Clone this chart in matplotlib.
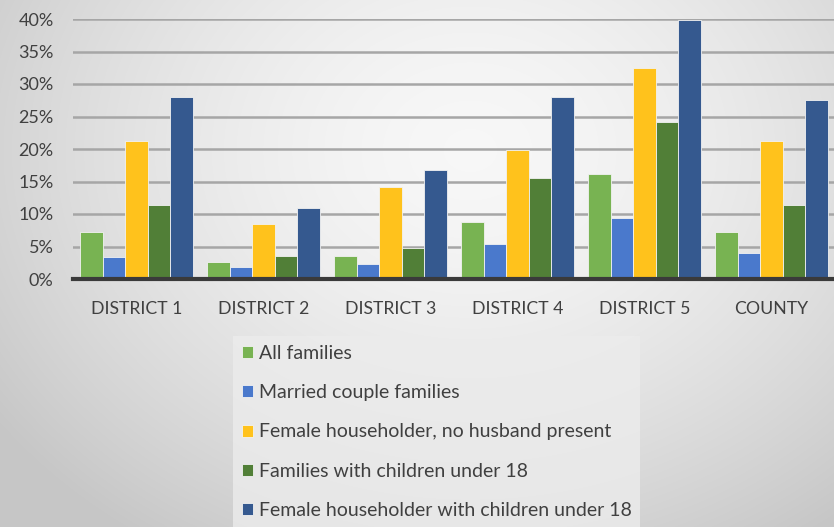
import matplotlib.pyplot as plt
import numpy as np

categories = ["DISTRICT 1", "DISTRICT 2", "DISTRICT 3", "DISTRICT 4", "DISTRICT 5", "COUNTY"]
series_names = [
    "All families",
    "Married couple families",
    "Female householder, no husband present",
    "Families with children under 18",
    "Female householder with children under 18",
]
all_families = [7.2, 2.6, 3.6, 8.7, 16.1, 7.3]
married_couple = [3.4, 1.9, 2.3, 5.4, 9.4, 4.0]
female_no_husband = [21.2, 8.5, 14.2, 19.8, 32.5, 21.3]
families_children = [11.4, 3.6, 4.7, 15.6, 24.2, 11.4]
female_children = [28.0, 10.9, 16.8, 28.0, 39.8, 27.5]
yticks = [0, 5, 10, 15, 20, 25, 30, 35, 40]

colors = ["#78B352", "#4A79CC", "#FFC21C", "#517F37", "#35598F"]
text_color = "#404040"
plt.rcParams["font.family"] = ["Lato", "DejaVu Sans"]

fig = plt.figure(figsize=(8.34, 5.27), dpi=100)

# radial grey background
bg = fig.add_axes([0, 0, 1, 1], zorder=-10)
yy, xx = np.mgrid[0:527, 0:834]
r = np.sqrt(((xx - 470) / 520.0) ** 2 + ((yy - 150) / 420.0) ** 2)
shade = np.clip(0.97 - 0.16 * r ** 1.6, 0.78, 0.97)
bg.imshow(np.dstack([shade] * 3), aspect="auto", extent=[0, 1, 0, 1])
bg.axis("off")

ax = fig.add_axes([73 / 834, 248 / 527, 762 / 834, 260 / 527])
ax.set_facecolor("none")

series = [all_families, married_couple, female_no_husband, families_children, female_children]
x = np.arange(len(categories))
width = 0.178
for i, (vals, name, c) in enumerate(zip(series, series_names, colors)):
    ax.bar(x + (i - 2) * width, vals, width, color=c, edgecolor="#f2f2f2",
           linewidth=0.6, label=name, zorder=3)

ax.set_xlim(-0.5, len(categories) - 0.5)
ax.set_ylim(0, 40)
ax.set_yticks(yticks)
ax.set_yticklabels([f"{v}%" for v in yticks], fontsize=13, color=text_color)
ax.set_xticks(x)
ax.set_xticklabels(categories, fontsize=12.7, color=text_color)
ax.tick_params(length=0)
ax.tick_params(axis="y", pad=14)
ax.tick_params(axis="x", pad=16)
ax.grid(axis="y", color="#a6a6a6", linewidth=1.8, zorder=1)
for s in ["top", "right", "left"]:
    ax.spines[s].set_visible(False)
ax.spines["bottom"].set_color("#3a3a3a")
ax.spines["bottom"].set_linewidth(3)
ax.spines["bottom"].set_zorder(4)

leg = fig.legend(loc="upper left", bbox_to_anchor=(233 / 834, 1 - 336 / 527),
                 fontsize=14, frameon=True, fancybox=False, handlelength=0.58,
                 handleheight=0.58, handletextpad=0.3, labelspacing=1.15,
                 borderpad=0.45, borderaxespad=0)
leg.get_frame().set_facecolor("#ececec")
leg.get_frame().set_edgecolor("none")
leg.get_frame().set_alpha(0.8)
for t in leg.get_texts():
    t.set_color(text_color)

fig.savefig("out.png", dpi=100)
